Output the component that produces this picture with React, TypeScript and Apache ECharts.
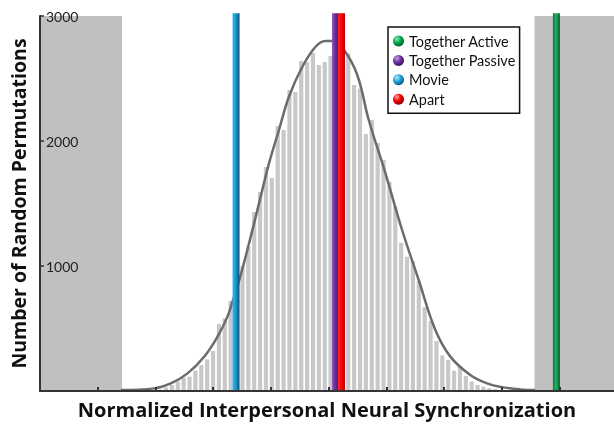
import React, { useEffect, useRef } from "react";
import * as echarts from "echarts";

// Histogram of random permutations (bin index -> count)
const histBins = [20, 21, 22, 23, 24, 25, 26, 27, 28, 29, 30, 31, 32, 33, 34, 35, 36, 37, 38, 39, 40, 41, 42, 43, 44, 45, 46, 47, 48, 49, 50, 51, 52, 53, 54, 55, 56, 57, 58, 59, 60, 61, 62, 63, 64, 65, 66, 67, 68, 69, 70, 71, 72, 73, 74, 75, 76, 77, 78, 79, 80, 81, 82];
const histCounts = [6, 13, 29, 48, 75, 107, 115, 163, 208, 253, 320, 536, 581, 720, 850, 1000, 1152, 1432, 1592, 1792, 1704, 2120, 2088, 2408, 2392, 2640, 2632, 2704, 2608, 2632, 2680, 2760, 2720, 2700, 2448, 2420, 2056, 2168, 1984, 1848, 1675, 1480, 1186, 1075, 1040, 880, 670, 560, 400, 285, 250, 162, 200, 120, 76, 49, 35, 24, 17, 11, 7, 4, 2];

// Fitted curve
const curveX = [14.34, 19.99, 22.83, 25.66, 28.48, 30.76, 32.45, 33.3, 34.42, 36.12, 37.82, 39.52, 41.21, 42.91, 45.19, 47.44, 49.14, 50.28, 52.25, 54.52, 56.49, 59.33, 62.16, 64.98, 67.82, 70.37, 73.76, 76.6, 79.41, 82.25, 84.8];
const curveY = [8, 21, 61, 141, 274, 435, 595, 715, 880, 1181, 1501, 1821, 2088, 2354, 2594, 2754, 2800, 2800, 2730, 2530, 2168, 1741, 1288, 888, 488, 275, 128, 61, 29, 13, 8];

// Observed conditions
const condNames = ["Together Active", "Together Passive", "Movie", "Apart"];
const condValues = [88.41, 50.84, 33.91, 51.86];
const condColors = [
  ["#0b7a3c", "#22b263", "#05552a"],
  ["#8a52b8", "#6a2e9a", "#3a1858"],
  ["#30b6ea", "#1a9bd7", "#10506e"],
  ["#ff2a2a", "#ff0000", "#b80000"],
];
const condBall = [
  ["#8ce8b4", "#00a651", "#005a2a"],
  ["#c6a0e6", "#7030a0", "#3a1456"],
  ["#b0eaff", "#1da1dc", "#0a5478"],
  ["#ffa0a0", "#ee0000", "#800000"],
];
const lineTop = 3022;

// Axis ranges / ticks
const xMin = 0.56;
const xMax = 98.21;
const xTickValues = [10.38, 20.2, 30.03, 39.85, 49.67, 59.5, 69.32, 79.14, 88.97];
const yTicks = [0, 1000, 2000, 3000];
const grayLeft = [0.56, 14.51];
const grayRight = [84.68, 98.21];

const xTitle = "Normalized Interpersonal Neural Synchronization";
const yTitle = "Number of Random Permutations";

export default function App() {
  const ref = useRef<HTMLDivElement>(null);
  useEffect(() => {
    if (!ref.current) return;
    const chart = echarts.init(ref.current, undefined, { renderer: "svg" });
    const font = "Lato, 'Open Sans', sans-serif";
    const titleFont = "'Open Sans', Lato, sans-serif";
    const lineSeries = condNames.map((name, i) => ({
      name,
      type: "bar",
      xAxisIndex: 1,
      yAxisIndex: 0,
      stack: "marks",
      barWidth: 7,
      clip: false,
      z: 5,
      data: [[condValues[i], lineTop]],
      itemStyle: {
        color: new echarts.graphic.LinearGradient(0, 0, 1, 0, [
          { offset: 0, color: condColors[i][0] },
          { offset: 0.45, color: condColors[i][1] },
          { offset: 1, color: condColors[i][2] },
        ]),
      },
    }));
    chart.setOption({
      animation: false,
      grid: { left: 39, right: 0, top: 16, bottom: 33, containLabel: false },
      legend: {
        orient: "vertical",
        left: 388,
        top: 27,
        z: 20,
        data: condNames.map((name, i) => ({
          name,
          itemStyle: {
            color: new echarts.graphic.RadialGradient(0.35, 0.3, 0.75, [
              { offset: 0, color: condBall[i][0] },
              { offset: 0.5, color: condBall[i][1] },
              { offset: 1, color: condBall[i][2] },
            ]),
          },
        })),
        icon: "circle",
        itemWidth: 11,
        itemHeight: 11,
        itemGap: 4.4,
        padding: [6.5, 4, 6.5, 5],
        borderColor: "#111",
        borderWidth: 1.5,
        backgroundColor: "#fff",
        selectedMode: false,
        textStyle: { fontFamily: font, fontSize: 14.5, lineHeight: 15, color: "#111" },
      },
      xAxis: [
        {
          type: "value",
          min: xMin,
          max: xMax,
          z: 10,
          axisLine: { show: true, lineStyle: { color: "#333", width: 2 } },
          axisTick: { show: true, inside: true, length: 4, customValues: xTickValues, lineStyle: { color: "#333", width: 2 } },
          axisLabel: { show: false },
          splitLine: { show: false },
          name: xTitle,
          nameLocation: "middle",
          nameGap: 8,
          nameTextStyle: { fontFamily: titleFont, fontWeight: "bold", fontSize: 20, color: "#111" },
        },
        { type: "value", min: xMin, max: xMax, show: false },
      ],
      yAxis: {
        type: "value",
        min: yTicks[0],
        max: yTicks[yTicks.length - 1],
        interval: 1000,
        z: 10,
        axisLine: { show: true, lineStyle: { color: "#333", width: 2 } },
        axisTick: { show: true, inside: true, length: 4, lineStyle: { color: "#333", width: 1.5 } },
        axisLabel: {
          inside: true,
          margin: 6,
          fontFamily: font,
          fontSize: 14,
          color: "#222",
          formatter: (v: number) => (v === 0 ? "" : String(v)),
        },
        splitLine: { show: false },
        name: yTitle,
        nameLocation: "middle",
        nameGap: 12,
        nameTextStyle: { fontFamily: titleFont, fontWeight: "bold", fontSize: 19.5, color: "#111" },
      },
      series: [
        {
          type: "bar",
          name: "Permutations",
          xAxisIndex: 0,
          barWidth: 4.2,
          z: 2,
          itemStyle: { color: "#c8c8c8" },
          data: histBins.map((b, i) => [b, histCounts[i]]),
          markArea: {
            silent: true,
            itemStyle: { color: "#c0c0c0" },
            data: [
              [{ xAxis: grayLeft[0], yAxis: 0 }, { xAxis: grayLeft[1], yAxis: 3000 }],
              [{ xAxis: grayRight[0], yAxis: 0 }, { xAxis: grayRight[1], yAxis: 3000 }],
            ],
          },
        },
        {
          type: "line",
          name: "Fit",
          xAxisIndex: 0,
          smooth: 0.4,
          symbol: "none",
          z: 3,
          lineStyle: { color: "#6b6b6b", width: 2.5 },
          data: curveX.map((x, i) => [x, curveY[i]]),
        },
        ...lineSeries,
      ],
    });
    return () => chart.dispose();
  }, []);
  return <div ref={ref} style={{ position: "fixed", left: 0, top: 0, width: 614, height: 424 }} />;
}
